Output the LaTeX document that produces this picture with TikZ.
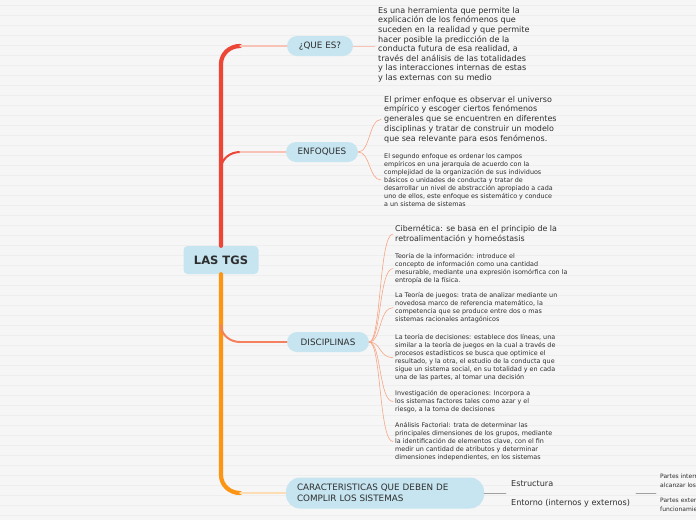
\documentclass[tikz,border=0pt]{standalone}
\usepackage{fontspec}
\setmainfont{DejaVu Sans}
\usetikzlibrary{positioning,calc}
\definecolor{paper}{HTML}{F6F6F6}
\definecolor{rule}{HTML}{EEEEEE}
\definecolor{topicblue}{HTML}{C6E5F0}
\definecolor{ink}{HTML}{2E2E2E}
\definecolor{trunkred}{HTML}{EC4636}
\definecolor{trunkorange}{HTML}{FC9414}
\definecolor{palered}{HTML}{F8C2B6}
\definecolor{salmon}{HTML}{F6A585}
\definecolor{discred}{HTML}{F4805E}
\definecolor{paleorange}{HTML}{FCDDB4}
\definecolor{twiggray}{HTML}{A0A0A0}
\tikzset{
  topic/.style={fill=topicblue,rounded corners=10pt,minimum height=20pt,inner sep=0pt,text=ink,font=\fontsize{8.8}{10}\selectfont},
  note/.style={anchor=north west,align=left,inner sep=0pt,text=ink,font=\fontsize{8.1}{9.6}\selectfont},
  smallnote/.style={note,font=\fontsize{6.4}{8.1}\selectfont},
  twig/.style={draw=salmon,line width=.6pt},
}
\begin{document}
\begin{tikzpicture}[x=1pt,y=-1pt,line cap=round]
\useasboundingbox (0,0) rectangle (696,520);
\clip (0,0) rectangle (696,520);
\fill[paper] (0,0) rectangle (696,520);
\foreach \y in {5,15,...,515}
  \draw[rule,line width=.6pt] (0,\y) -- (696,\y);

% central topic and main branches
\node[fill=topicblue,rounded corners=4pt,minimum width=75pt,minimum height=28pt,inner sep=0pt,text=ink,font=\fontsize{11.5}{13}\selectfont\bfseries] (tgs) at (221,260) {LAS TGS};
\node[topic,minimum width=66pt] (quees) at (320,46) {¿QUE ES?};
\node[topic,minimum width=72pt] (enf) at (322,152) {ENFOQUES};
\node[topic,minimum width=82pt] (disc) at (328,342) {DISCIPLINAS};
\node[topic,text width=176pt,inner xsep=11pt,minimum height=31pt,rounded corners=14pt,align=left,font=\fontsize{8.8}{10.5}\selectfont] (car) at (385,493) {CARACTERISTICAS QUE DEBEN DE\\COMPLIR LOS SISTEMAS};

\coordinate (jq) at (240,46);
\coordinate (je) at (240,152);
\coordinate (jd) at (240,342);
\coordinate (jc) at (240,493);
\draw[trunkred,line width=4.2pt] (tgs.north) -- (221,64) to[out=90,in=180] (jq);
\draw[trunkorange,line width=4.2pt] (tgs.south) -- (221,475) to[out=-90,in=180] (jc);
\draw[trunkred,line width=2pt] (221,169) to[out=90,in=180] (je);
\draw[discred,line width=2pt] (221,325) to[out=-90,in=180] (jd);
\draw[palered,line width=1.2pt] (jq) -- (quees.west);
\draw[palered,line width=1.2pt] (je) -- (enf.west);
\draw[discred,line width=1.2pt] (jd) -- (disc.west);
\draw[paleorange,line width=1.4pt] (jc) -- (car.west);

% ¿QUE ES?
\node[note] (def) at (378,7) {Es una herramienta que permite la\\explicación de los fenómenos que\\suceden en la realidad y que permite\\hacer posible la predicción de la\\conducta futura de esa realidad, a\\través del análisis de las totalidades\\y las interacciones internas de estas\\y las externas con su medio};
\draw[palered,line width=.8pt] (quees.east) -- ([xshift=-3pt]quees.east -| def.west);

% ENFOQUES
\node[note,font=\fontsize{8}{9.7}\selectfont] (enf1) at (384,96) {El primer enfoque es observar el universo\\empírico y escoger ciertos fenómenos\\generales que se encuentren en diferentes\\disciplinas y tratar de construir un modelo\\que sea relevante para esos fenómenos.};
\node[smallnote] (enf2) at (384,153) {El segundo enfoque es ordenar los campos\\empíricos en una jerarquía de acuerdo con la\\complejidad de la organización de sus individuos\\básicos o unidades de conducta y tratar de\\desarrollar un nivel de abstracción apropiado a cada\\uno de ellos, este enfoque es sistemático y conduce\\a un sistema de sistemas};
\foreach \c in {enf1,enf2}
  \draw[twig] (enf.east) .. controls +(12,0) and +(-12,0) .. ([xshift=-3pt]\c.west);

% DISCIPLINAS
\node[note,font=\fontsize{7.9}{9.7}\selectfont] (cib) at (395,225) {Cibernética: se basa en el principio de la\\retroalimentación y homeóstasis};
\node[smallnote] (info) at (395,253) {Teoría de la información: introduce el\\concepto de información como una cantidad\\mesurable, mediante una expresión isomórfica con la\\entropía de la física.};
\node[smallnote] (juegos) at (395,292) {La Teoría de juegos: trata de analizar mediante un\\novedosa marco de referencia matemático, la\\competencia que se produce entre dos o mas\\sistemas racionales antagónicos};
\node[smallnote] (decis) at (395,334) {La teoría de decisiones: establece dos líneas, una\\similar a la teoría de juegos en la cual a través de\\procesos estadísticos se busca que optimice el\\resultado, y la otra, el estudio de la conducta que\\sigue un sistema social, en su totalidad y en cada\\una de las partes, al tomar una decisión};
\node[smallnote] (oper) at (395,390) {Investigación de operaciones: Incorpora a\\los sistemas factores tales como azar y el\\riesgo, a la toma de decisiones};
\node[smallnote] (fact) at (395,422) {Análisis Factorial: trata de determinar las\\principales dimensiones de los grupos, mediante\\la identificación de elementos clave, con el fin\\medir un cantidad de atributos y determinar\\dimensiones independientes, en los sistemas};
\foreach \c in {cib,info,juegos,decis,oper,fact}
  \draw[twig] (disc.east) .. controls +(12,0) and +(-14,0) .. ([xshift=-2pt]\c.west);

% CARACTERISTICAS
\node[note,anchor=west] (estr) at (511,484) {Estructura};
\node[note,anchor=west] (ent) at (511,503) {Entorno (internos y externos)};
\coordinate (ce) at (506,493);
\draw[twiggray,line width=.9pt] (car.east) -- (ce);
\node[smallnote,font=\fontsize{6}{8.4}\selectfont] (pint) at (660,474) {Partes internas que permiten\\alcanzar los objetivos};
\node[smallnote,font=\fontsize{6}{8.4}\selectfont] (pext) at (660,498) {Partes externas que influyen en el\\funcionamiento};
\coordinate (pa) at (636,493);
\coordinate (pb) at (656,493);
\draw[twiggray,line width=.9pt] (pa) -- (pb);
\end{tikzpicture}
\end{document}
